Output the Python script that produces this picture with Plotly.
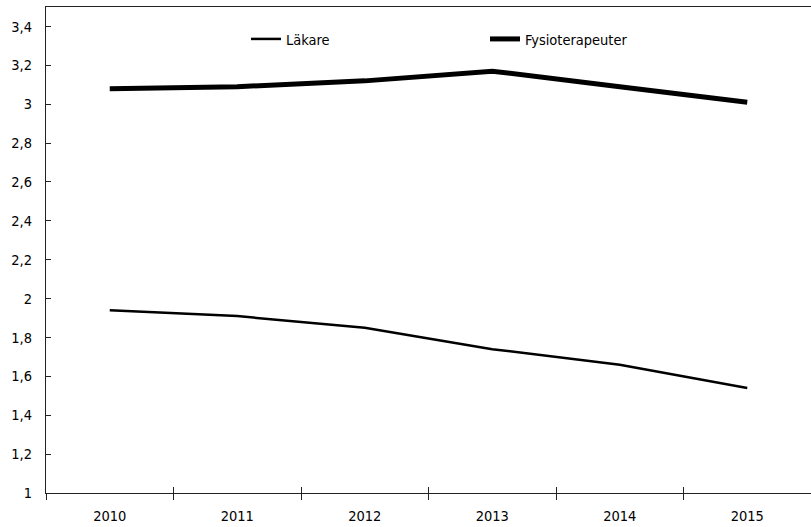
import plotly.graph_objects as go

years = ["2010", "2011", "2012", "2013", "2014", "2015"]
lakare = [1.94, 1.91, 1.85, 1.74, 1.66, 1.54]
fysio = [3.08, 3.09, 3.12, 3.17, 3.09, 3.01]
ytick_vals = [1, 1.2, 1.4, 1.6, 1.8, 2, 2.2, 2.4, 2.6, 2.8, 3, 3.2, 3.4]
ytick_text = ["1", "1,2", "1,4", "1,6", "1,8", "2", "2,2", "2,4", "2,6", "2,8", "3", "3,2", "3,4"]

FONT = "DejaVu Sans Condensed, Liberation Sans Narrow, sans-serif"
FS = 14.5

fig = go.Figure()
fig.add_trace(go.Scatter(x=years, y=lakare, mode="lines", name="Läkare",
                         line=dict(color="black", width=2.5), legend="legend"))
fig.add_trace(go.Scatter(x=years, y=fysio, mode="lines", name="Fysioterapeuter",
                         line=dict(color="black", width=5), legend="legend2"))
# invisible trace on overlay axis to show crossing ticks
fig.add_trace(go.Scatter(x=years, y=lakare, mode="lines", xaxis="x2", showlegend=False,
                         line=dict(width=0), hoverinfo="skip", opacity=0))

W, H = 811, 527
L, R, T, B = 46, 0, 7, 34

fig.update_layout(
    width=W, height=H,
    margin=dict(l=L, r=R, t=T, b=B),
    paper_bgcolor="white", plot_bgcolor="white",
    font=dict(family=FONT, size=FS, color="black"),
    separators=",.",
    xaxis=dict(type="category", range=[-0.5, 5.5], showgrid=False, automargin=False,
               showline=True, linecolor="#222", linewidth=1.2, mirror=True,
               ticks="outside", ticklen=6, tickcolor="#222", tickwidth=1,
               tickson="boundaries", ticklabelstandoff=9, zeroline=False),
    xaxis2=dict(type="category", range=[-0.5, 5.5], overlaying="x", matches="x",
                showgrid=False, showline=False, ticks="inside", ticklen=6,
                tickcolor="#222", tickwidth=1, tickson="boundaries", automargin=False,
                showticklabels=False, side="bottom"),
    yaxis=dict(range=[1, 3.5], tickvals=ytick_vals, ticktext=ytick_text, automargin=False,
               showgrid=False, zeroline=False, showline=True, linecolor="#222",
               linewidth=1.2, ticks="inside", ticklen=5, tickcolor="#222",
               ticklabelstandoff=10),
    legend=dict(x=(246 - L) / (W - L - R), y=1 - (39 - T) / (H - T - B),
                xanchor="left", yanchor="middle", bgcolor="rgba(0,0,0,0)",
                font=dict(size=FS)),
    legend2=dict(x=(485 - L) / (W - L - R), y=1 - (39 - T) / (H - T - B),
                 xanchor="left", yanchor="middle", bgcolor="rgba(0,0,0,0)",
                 font=dict(size=FS)),
    showlegend=True,
)

fig.write_html("out.html", config={"displayModeBar": False},
               post_script="document.body.style.margin='0';")
